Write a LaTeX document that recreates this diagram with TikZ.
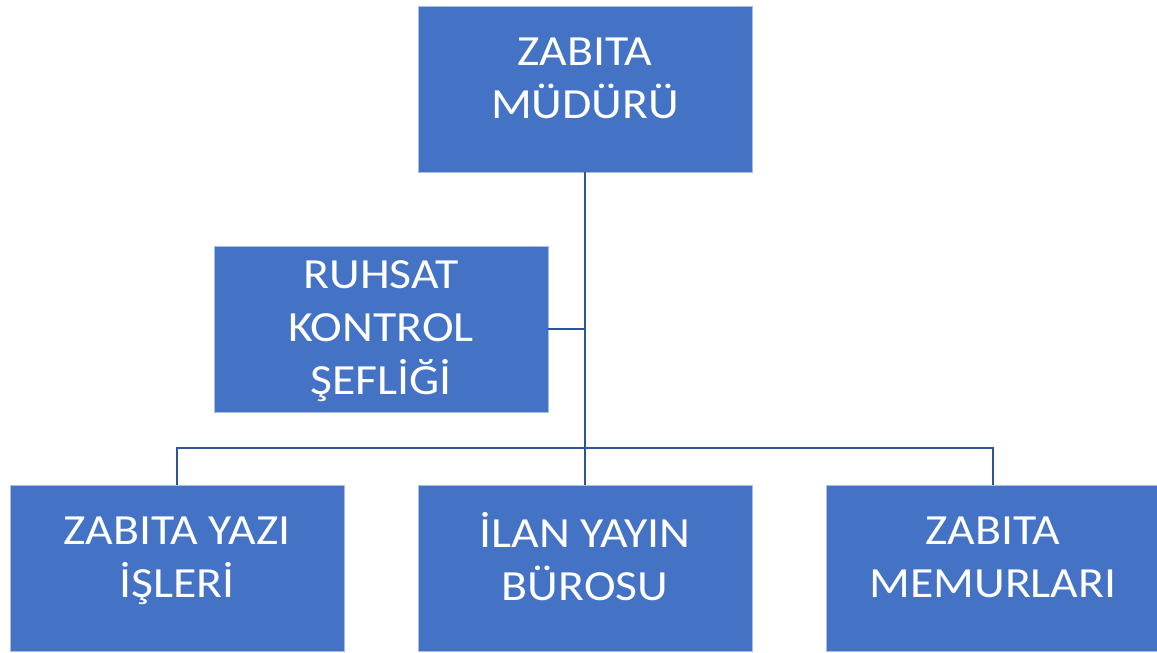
\documentclass[tikz,border=0pt]{standalone}
\usepackage{fontspec}
\setmainfont{Carlito}[FakeStretch=1.11]
\definecolor{boxfill}{HTML}{4472C4}
\definecolor{boxedge}{HTML}{A9BEE4}
\definecolor{linkcol}{HTML}{2F5597}
\begin{document}
\begin{tikzpicture}[x=1pt,y=-1pt,
  orgbox/.style={rectangle,fill=boxfill,draw=boxedge,line width=0.8pt,minimum width=334pt,minimum height=166pt,inner sep=0pt},
  orgtext/.style={text=white,align=center,inner sep=0pt,font=\fontsize{43}{53}\selectfont},
  link/.style={draw=linkcol,line width=2.6pt}]
\useasboundingbox (0,0) rectangle (1157,653);
\node[orgbox] (top) at (585,89) {};
\node[orgbox] (ruhsat) at (381,329) {};
\node[orgbox] (left) at (177,568) {};
\node[orgbox] (mid) at (585,568) {};
\node[orgbox] (right) at (993,568) {};
\coordinate (junc) at (585,448);
\draw[link] (top.south) -- (mid.north);
\draw[link] (ruhsat.east) -- (ruhsat.east -| top.south);
\draw[link] (left.north) |- (junc) -| (right.north);
\node[orgtext,yshift=10.5pt] (ttop) at (top.center) {ZABITA\\MÜDÜRÜ};
\node[orgtext,yshift=-2.5pt] (truhsat) at (ruhsat.center) {RUHSAT\\KONTROL\\ŞEFLİĞİ};
\node[orgtext,yshift=7pt] (tleft) at (left.center) {ZABITA YAZI\\İŞLERİ};
\node[orgtext,yshift=11pt] (tmid) at (mid.center) {İLAN YAYIN\\BÜROSU};
\node[orgtext,yshift=11pt] (tright) at (right.center) {ZABITA\\MEMURLARI};
\end{tikzpicture}
\end{document}
